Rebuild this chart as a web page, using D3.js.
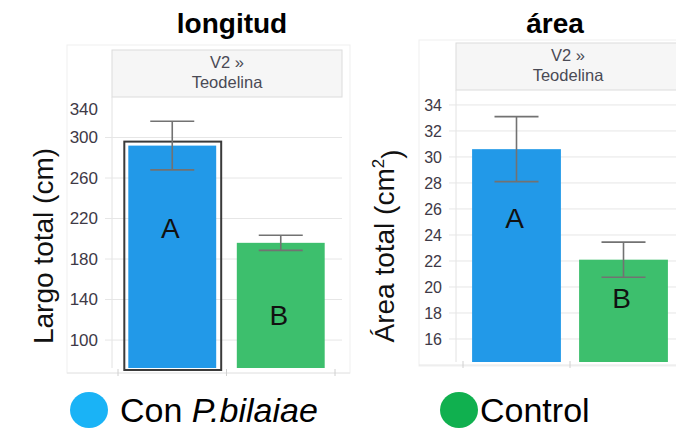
<!DOCTYPE html>
<html>
<head>
<meta charset="utf-8">
<script src="https://cdn.jsdelivr.net/npm/d3@7"></script>
<style>
  body { margin: 0; background: #fff; }
  svg { display: block; font-family: "Liberation Sans", Arial, sans-serif; }
</style>
</head>
<body>
<div class="chart"></div>
<script>

// Data
var groups = ["Con P.bilaiae", "Control"];
var letters = ["A", "B"];
var headerLines = ["V2 \u00bb", "Teodelina"];

var largoMean = [292, 196];
var largoErr = [24, 7.5];
var largoTicks = [100, 140, 180, 220, 260, 300, 340];
var largoLetterAt = [201, 115];

var areaMean = [30.6, 22.1];
var areaErr = [2.5, 1.35];
var areaTicks = [16, 18, 20, 22, 24, 26, 28, 30, 32, 34];
var areaLetterAt = [24.5, 18.4];

var barColors = ["#2299e8", "#3dbf6d"];
var legendColors = ["#1ab3f6", "#10b04f"];

var svg = d3.select(".chart")
    .append("svg")
      .attr("width", 676)
      .attr("height", 428);

function makePanel(p) {

    var g = svg.append("g");

    // Faint outer frame of the panel
    g.append("rect")
        .attr("x", p.frame[0]).attr("y", p.frame[1])
        .attr("width", p.frame[2]).attr("height", p.frame[3])
        .attr("fill", "none")
        .attr("stroke", "#efefef");

    var y = d3.scaleLinear()
        .domain(p.domain)
        .range([p.bottom, p.top]);

    var x = d3.scaleBand()
        .domain(groups)
        .range(p.xRange)
        .paddingInner(p.pad)
        .paddingOuter(p.pad / 2);

    // Header strip
    g.append("rect")
        .attr("x", p.left).attr("y", p.headTop)
        .attr("width", p.right - p.left).attr("height", p.top - p.headTop)
        .attr("fill", "#f6f6f6")
        .attr("stroke", "#dcdcdc");

    g.selectAll(".head")
        .data(headerLines)
        .enter().append("text")
          .attr("x", (p.left + p.right) / 2)
          .attr("y", function(d, i) { return p.headTop + 18 + i * 20; })
          .attr("text-anchor", "middle")
          .style("font-size", "16.5px")
          .style("fill", "#4a4a55")
          .text(function(d) { return d; });

    // Panel title
    g.append("text")
        .attr("x", p.titleX)
        .attr("y", 33)
        .attr("text-anchor", "middle")
        .style("font-size", "28px")
        .style("font-weight", "bold")
        .text(p.title);

    // Plot area left border
    g.append("line")
        .attr("x1", p.left).attr("x2", p.left)
        .attr("y1", p.top).attr("y2", p.bottom)
        .attr("stroke", "#e2e2e2");

    // Gridlines, tick marks and labels
    var ticks = g.selectAll(".tick")
        .data(p.ticks)
        .enter().append("g");

    ticks.filter(function(d) { return y(d) > p.top + 4; })
        .append("line")
          .attr("x1", p.left - 7).attr("x2", p.right)
          .attr("y1", function(d) { return y(d); })
          .attr("y2", function(d) { return y(d); })
          .attr("stroke", "#e6e6e6");

    ticks.append("text")
        .attr("x", p.left - 14)
        .attr("y", function(d) { return Math.max(y(d), p.top + 12); })
        .attr("dy", "0.35em")
        .attr("text-anchor", "end")
        .style("font-size", p.tickSize)
        .style("fill", "#3e3946")
        .text(function(d) { return d; });

    // Bottom axis line and band ticks
    var base = p.bottom + p.baseGap;
    g.append("line")
        .attr("x1", p.frame[0]).attr("x2", p.right + 8)
        .attr("y1", base).attr("y2", base)
        .attr("stroke", "#e6e6e6");

    g.selectAll(".xtick")
        .data([0, 1, 2])
        .enter().append("line")
          .attr("x1", function(d) { return x.range()[0] + d * x.step(); })
          .attr("x2", function(d) { return x.range()[0] + d * x.step(); })
          .attr("y1", base - 4).attr("y2", base + 3)
          .attr("stroke", "#d0d0d0");

    // Selection outline around the first bar
    if (p.outline) {
        g.append("rect")
            .attr("x", x(groups[0]) - 4)
            .attr("y", y(p.mean[0]) - 4)
            .attr("width", x.bandwidth() + 9)
            .attr("height", p.bottom - y(p.mean[0]) + 6)
            .attr("fill", "none")
            .attr("stroke", "#3a3a3a")
            .attr("stroke-width", 2);
    }

    // Bars
    g.selectAll(".bar")
        .data(p.mean)
        .enter().append("rect")
          .attr("x", function(d, i) { return x(groups[i]); })
          .attr("y", function(d) { return y(d); })
          .attr("width", x.bandwidth())
          .attr("height", function(d) { return p.bottom - y(d); })
          .style("fill", function(d, i) { return barColors[i]; });

    // Error bars
    var eb = g.selectAll(".err")
        .data(p.mean)
        .enter().append("g")
          .attr("stroke", "#727272")
          .attr("stroke-width", 1.6);

    var cx = function(i) { return x(groups[i]) + x.bandwidth() / 2; };

    eb.append("line")
        .attr("x1", function(d, i) { return cx(i); })
        .attr("x2", function(d, i) { return cx(i); })
        .attr("y1", function(d, i) { return y(d + p.err[i]); })
        .attr("y2", function(d, i) { return y(d - p.err[i]); });

    [1, -1].forEach(function(s) {
        eb.append("line")
            .attr("x1", function(d, i) { return cx(i) - 22; })
            .attr("x2", function(d, i) { return cx(i) + 22; })
            .attr("y1", function(d, i) { return y(d + s * p.err[i]); })
            .attr("y2", function(d, i) { return y(d + s * p.err[i]); });
    });

    // Letters for significance groups
    g.selectAll(".letter")
        .data(letters)
        .enter().append("text")
          .attr("x", function(d, i) { return cx(i) - 2; })
          .attr("y", function(d, i) { return y(p.letterAt[i]); })
          .attr("text-anchor", "middle")
          .style("font-size", "28px")
          .style("fill", "#111")
          .text(function(d) { return d; });

    // Y axis title
    var yt = g.append("text")
        .attr("transform", "translate(" + p.yTitleX + ",246) rotate(-90)")
        .attr("text-anchor", "middle")
        .style("font-size", "28px")
        .style("fill", "#111");
    p.yTitle(yt);
}

makePanel({
    title: "longitud", titleX: 232,
    frame: [67, 45, 283, 328],
    left: 112, right: 342, headTop: 50, top: 97, bottom: 368, baseGap: 5,
    domain: [72.4, 340], ticks: largoTicks, tickSize: "17px",
    xRange: [118, 335], pad: 0.19,
    mean: largoMean, err: largoErr, letterAt: largoLetterAt, outline: true,
    yTitleX: 53,
    yTitle: function(t) { t.text("Largo total (cm)"); }
});

makePanel({
    title: "\u00e1rea", titleX: 555,
    frame: [419, 40, 270, 326],
    left: 456, right: 680, headTop: 43, top: 90, bottom: 362, baseGap: 3,
    domain: [14.23, 35.15], ticks: areaTicks, tickSize: "16px",
    xRange: [463, 677], pad: 0.17,
    mean: areaMean, err: areaErr, letterAt: areaLetterAt, outline: false,
    yTitleX: 394,
    yTitle: function(t) {
        t.append("tspan").text("\u00c1rea total (cm");
        t.append("tspan").attr("dy", "-0.6em").style("font-size", "17px").text("2");
        t.append("tspan").attr("dy", "0.6em").text(")");
    }
});

// Legend
var legend = svg.selectAll(".legend")
    .data(groups)
    .enter().append("g")
      .attr("transform", function(d, i) { return "translate(" + [89, 459][i] + ",410)"; });

legend.append("ellipse")
    .attr("rx", 19).attr("ry", 18)
    .style("fill", function(d, i) { return legendColors[i]; });

legend.append("text")
    .attr("x", function(d, i) { return i === 0 ? 31 : 21; })
    .attr("y", 12)
    .style("font-size", "34px")
    .style("fill", "#000")
    .each(function(d) {
        var t = d3.select(this);
        var parts = d.split(" ");
        if (parts.length > 1) {
            t.append("tspan").text(parts[0] + " ");
            t.append("tspan").style("font-style", "italic").text(parts[1]);
        } else {
            t.text(d);
        }
    });

</script>
</body>
</html>
